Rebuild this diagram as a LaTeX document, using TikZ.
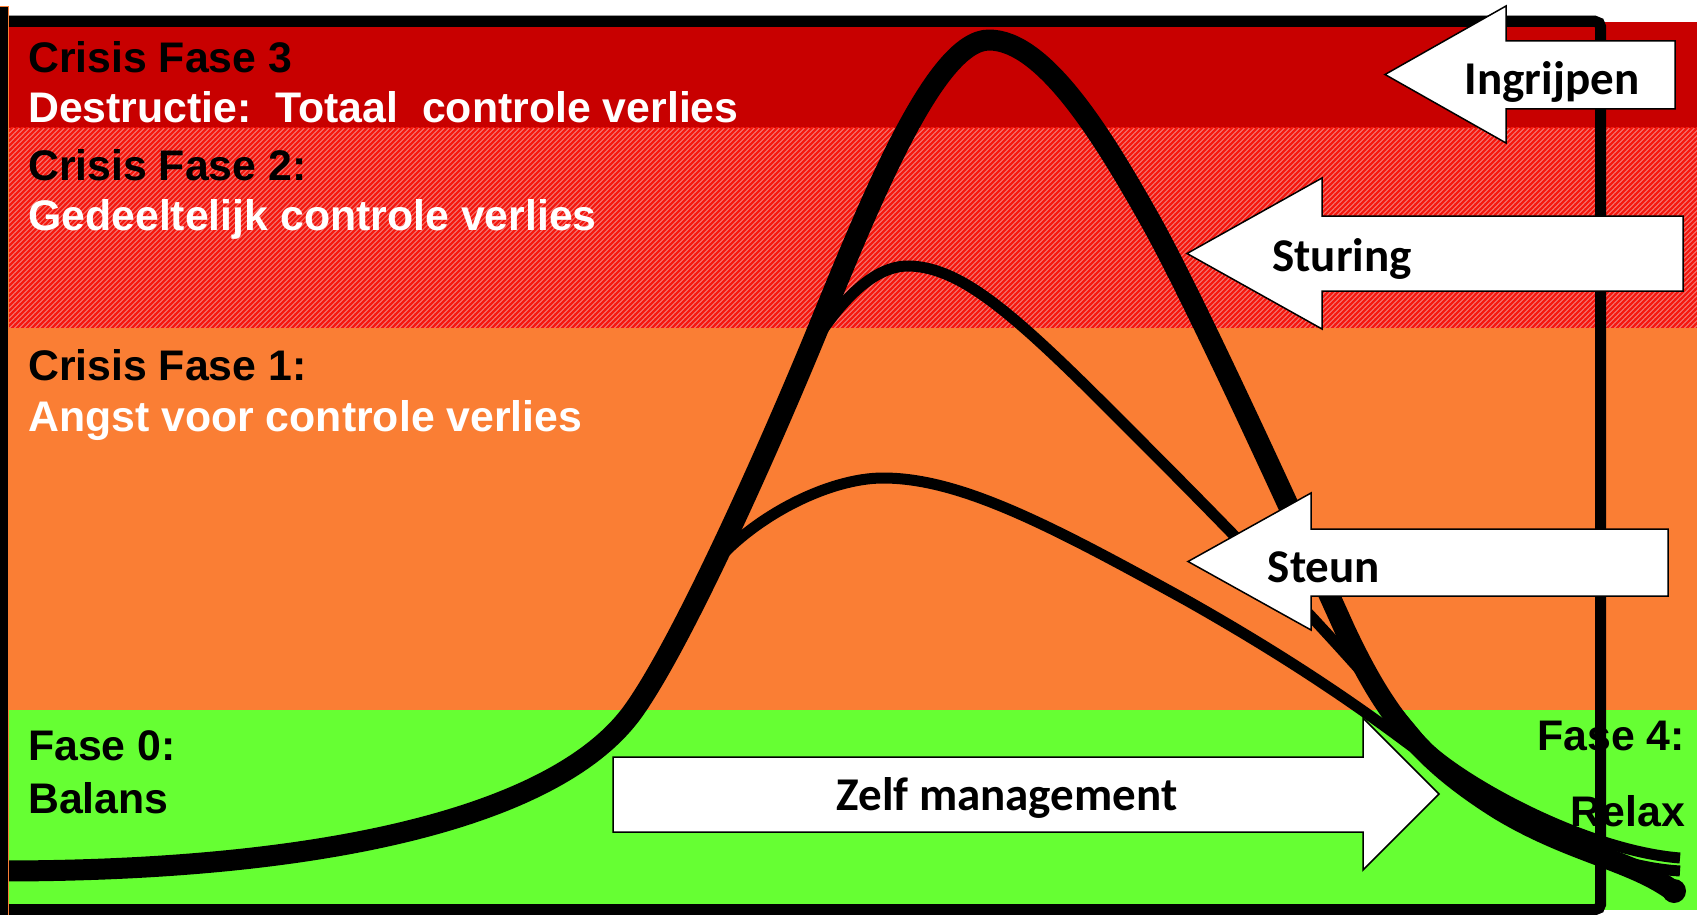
\documentclass[tikz,border=0pt]{standalone}
\usepackage{fontspec}
\setmainfont{Liberation Sans}
\newfontfamily\calib{Carlito}
\usetikzlibrary{patterns}
\pgfdeclarepatternformonly{hatchne}{\pgfqpoint{-1pt}{-1pt}}{\pgfqpoint{6pt}{6pt}}{\pgfqpoint{5pt}{5pt}}{%
  \pgfsetlinewidth{2.2pt}%
  \pgfpathmoveto{\pgfqpoint{-1pt}{-1pt}}%
  \pgfpathlineto{\pgfqpoint{6pt}{6pt}}%
  \pgfusepath{stroke}%
}
\definecolor{cred}{RGB}{200,0,0}
\definecolor{corange}{RGB}{250,126,52}
\definecolor{cgreen}{RGB}{102,255,51}
\definecolor{chbase}{RGB}{240,128,125}
\definecolor{chline}{RGB}{245,25,15}
\tikzset{
  phase/.style={anchor=base west, inner sep=0pt, font=\fontsize{42.8}{50}\selectfont\bfseries},
  phaser/.style={anchor=base east, inner sep=0pt, font=\fontsize{42.8}{50}\selectfont\bfseries},
  arrowbox/.style={fill=white, draw=black, line width=1.5pt, line join=miter},
  arrowtext/.style={anchor=base, inner sep=0pt, font=\calib\fontsize{47}{56}\selectfont\bfseries},
  maincurve/.style={line width=21pt, line cap=round, line join=round},
  subcurve/.style={line width=11pt, line cap=butt, line join=round},
}
\begin{document}
\begin{tikzpicture}[x=1pt, y=-1pt]
\useasboundingbox (0,0) rectangle (1697,915);
% bands
\fill[cred] (9,22) rectangle (1697,128);
\fill[chbase] (9,128) rectangle (1697,328);
\fill[pattern=hatchne, pattern color=chline] (9,128) rectangle (1697,328);
\fill[corange] (9,328) rectangle (1697,710);
\fill[cgreen] (9,710) rectangle (1697,910);
% curves
\draw[subcurve] (806,356) .. controls (845,290) and (880,265) .. (910,266)
  .. controls (960,268) and (1010,310) .. (1109,409)
  .. controls (1200,500) and (1330,630) .. (1420,740)
  .. controls (1450,775) and (1580,850) .. (1680,858);
\draw[subcurve] (712,566) .. controls (755,515) and (830,478) .. (883,478)
  .. controls (960,478) and (1050,525) .. (1186,600)
  .. controls (1280,653) and (1350,700) .. (1410,745)
  .. controls (1480,795) and (1580,865) .. (1680,871);
\draw[maincurve] (0,871) .. controls (330,871) and (560,815) .. (634,710)
  .. controls (680,645) and (760,470) .. (818,329)
  .. controls (870,202) and (935,40) .. (989,40)
  .. controls (1045,40) and (1105,140) .. (1150,220)
  .. controls (1195,300) and (1300,530) .. (1345,630)
  .. controls (1385,715) and (1420,760) .. (1500,810)
  .. controls (1570,852) and (1630,860) .. (1672,890);
\fill (1674,891) circle (12);
% frame
\draw[gray!60, line width=1pt] (9,15.5) -- (1596,15.5);
\draw[line width=11pt, rounded corners=5pt] (2.5,21.5) rectangle (1600.5,909.5);
\fill[black] (0,7) rectangle (8,915);
\draw[corange, line width=1pt] (8.5,6.5) -- (8.5,915);
\draw[corange, line width=1pt] (0,6.5) -- (9,6.5);
% arrows
\draw[arrowbox] (1385,74.5) -- (1506,6) -- (1506,41) -- (1675,41) -- (1675,109) -- (1506,109) -- (1506,143) -- cycle;
\draw[arrowbox] (1187,253.5) -- (1322,178) -- (1322,216) -- (1683,216) -- (1683,291) -- (1322,291) -- (1322,329) -- cycle;
\draw[arrowbox] (1188,561.5) -- (1311,493) -- (1311,529) -- (1668,529) -- (1668,596) -- (1311,596) -- (1311,630) -- cycle;
\draw[arrowbox] (613,757) -- (1363,757) -- (1363,718) -- (1439,794) -- (1363,870) -- (1363,832) -- (613,832) -- cycle;
\node[arrowtext] (ingrijpen) at (1552,95) {Ingrijpen};
\node[arrowtext] (sturing) at (1342,271) {Sturing};
\node[arrowtext] (steun) at (1324,582) {Steun};
\node[arrowtext] (zelf) at (1007,810) {Zelf management};
% phase texts
\node[phase] (f3a) at (28,73) {Crisis Fase 3};
\node[phase, text=white] (f3b) at (28,123) {Destructie:\ \ Totaal\ \ controle verlies};
\node[phase] (f2a) at (28,180) {Crisis Fase 2:};
\node[phase, text=white] (f2b) at (28,230) {Gedeeltelijk controle verlies};
\node[phase] (f1a) at (28,380) {Crisis Fase 1:};
\node[phase, text=white] (f1b) at (28,431) {Angst voor controle verlies};
\node[phase] (f0a) at (28,760) {Fase 0:};
\node[phase] (f0b) at (28,813) {Balans};
\node[phaser] (f4a) at (1685,750) {Fase 4:};
\node[phaser] (f4b) at (1685,826) {Relax};
\end{tikzpicture}
\end{document}
